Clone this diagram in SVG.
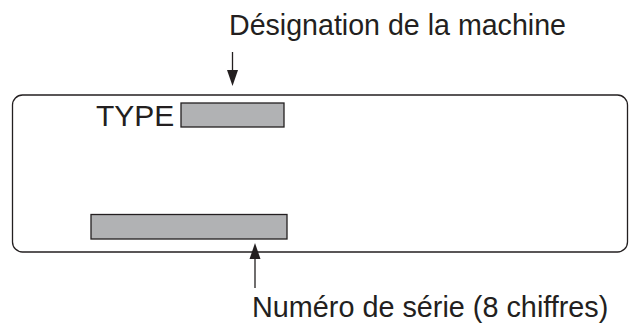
<svg xmlns="http://www.w3.org/2000/svg" width="634" height="323" viewBox="0 0 634 323">
<style>
.t{font-family:"Liberation Sans",Arial,sans-serif;fill:#231f20}
.bar{fill:#b1b2b4;stroke:#231f20;stroke-width:1.3}
.ln{stroke:#231f20;stroke-width:1.3;fill:none}
.head{fill:#231f20}
</style>
<rect width="634" height="323" fill="#fff"/>
<g id="plate">
<rect x="12.5" y="95" width="615" height="157" rx="10" class="ln" stroke-width="1.6"/>
<text x="96" y="126" class="t" font-size="30">TYPE</text>
<rect id="typefield" x="181" y="103" width="103" height="24" class="bar"/>
<rect id="serialfield" x="91" y="214.5" width="196" height="24.5" class="bar"/>
</g>
<g id="label-designation">
<text x="229" y="35" class="t" font-size="28.6">Désignation de la machine</text>
</g>
<g id="label-serial">
<text x="252" y="317" class="t" font-size="28.8">Numéro de série (8 chiffres)</text>
</g>
<g id="connectors">
<path d="M232.5,52 L232.5,72" class="ln"/>
<path d="M227,70 L238,70 L232.5,86 Z" class="head"/>
<path d="M255,288 L255,257" class="ln"/>
<path d="M249.5,259 L260.5,259 L255,243 Z" class="head"/>
</g>
</svg>
